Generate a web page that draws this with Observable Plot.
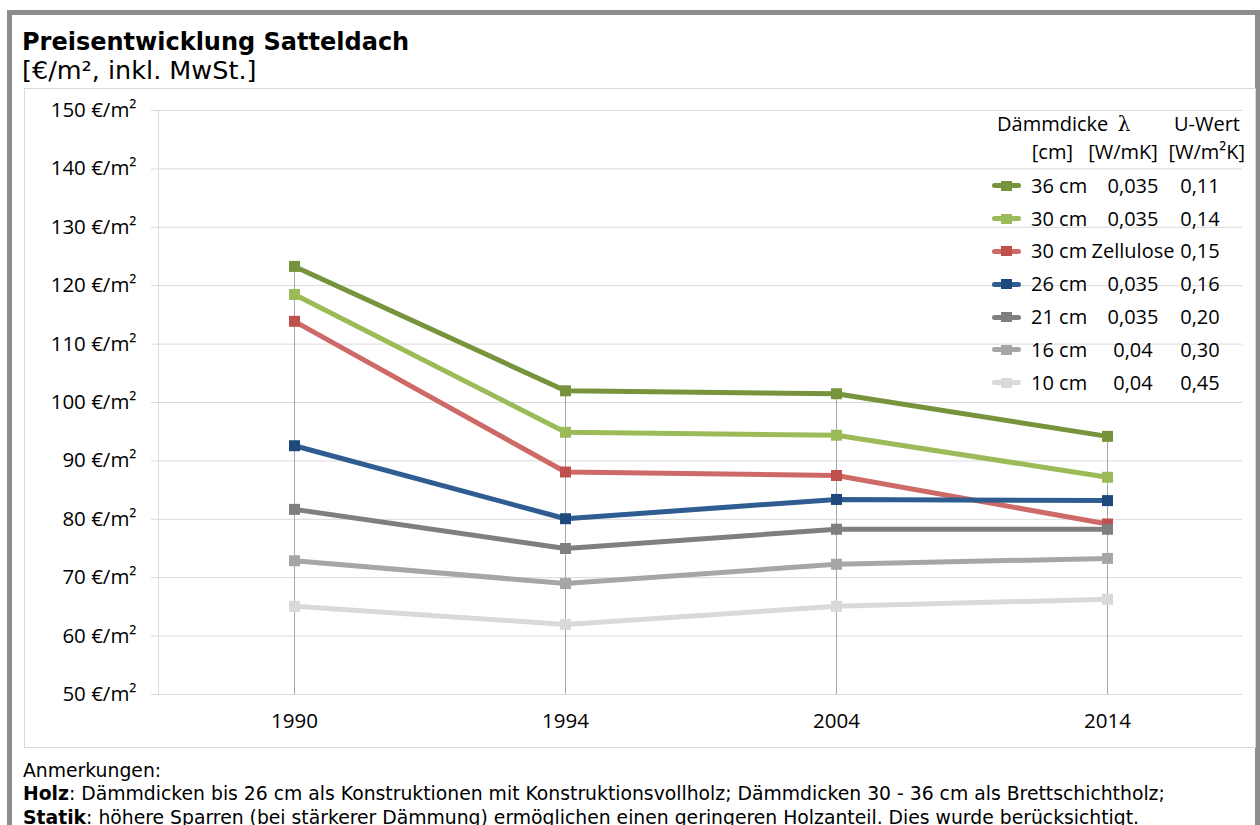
<!DOCTYPE html>
<html>
<head>
<meta charset="utf-8">
<script src="https://cdn.jsdelivr.net/npm/d3@7"></script>
<script src="https://cdn.jsdelivr.net/npm/@observablehq/plot@0.6"></script>
<style>
  html, body { margin: 0; padding: 0; background: #fff; width: 1260px; height: 825px; overflow: hidden; }
  #frame { position: absolute; left: 7px; top: 10px; width: 1243px; height: 900px; border: 5px solid #8c8c8c; box-sizing: content-box; }
  .t { position: absolute; white-space: nowrap; color: #000; }
  #title { left: 22px; top: 29.7px; font: bold 24px/1 "DejaVu Sans"; }
  #subtitle { left: 22px; top: 58.4px; font: 25.5px/1 "DejaVu Sans"; }
  #box { position: absolute; left: 24px; top: 88px; width: 1232px; height: 660px; border: 1px solid #d9d9d9; box-sizing: border-box; }
  #chart { position: absolute; left: 24px; top: 88px; }
  #legend { position: absolute; left: 0; top: 0; font-family: "Open Sans"; font-size: 20px; }
  #legend .t { line-height: 24px; height: 24px; }
  #footer { position: absolute; left: 23px; top: 758.5px; font: 18.8px/23.5px "DejaVu Sans"; white-space: nowrap; }
</style>
</head>
<body>
<div id="frame"></div>
<div id="title" class="t">Preisentwicklung Satteldach</div>
<div id="subtitle" class="t">[€/m², inkl. MwSt.]</div>
<div id="box"></div>
<div id="chart"></div>
<div id="legend"></div>
<div id="footer">
  <div>Anmerkungen:</div>
  <div><b>Holz</b>: Dämmdicken bis 26 cm als Konstruktionen mit Konstruktionsvollholz; Dämmdicken 30 - 36 cm als Brettschichtholz;</div>
  <div><b>Statik</b>: höhere Sparren (bei stärkerer Dämmung) ermöglichen einen geringeren Holzanteil. Dies wurde berücksichtigt.</div>
</div>
<script>
// ---- data ----
const years = ["1990", "1994", "2004", "2014"];
const seriesNames = ["36 cm", "30 cm", "30 cm Zellulose", "26 cm", "21 cm", "16 cm", "10 cm"];
const v36   = [123.3, 102.0, 101.5, 94.2];
const v30   = [118.5, 94.9, 94.4, 87.2];
const vZell = [113.9, 88.1, 87.5, 79.2];
const v26   = [92.6, 80.1, 83.4, 83.2];
const v21   = [81.7, 75.0, 78.3, 78.3];
const v16   = [72.9, 69.0, 72.3, 73.3];
const v10   = [65.1, 62.0, 65.1, 66.3];
const seriesValues = [v36, v30, vZell, v26, v21, v16, v10];
const lineColors   = ["#77933c", "#9bbb59", "#cd6a67", "#2f5d92", "#7f7f7f", "#a6a6a6", "#d9d9d9"];
const markerColors = ["#77933c", "#9bbb59", "#c0504d", "#1f497d", "#7f7f7f", "#a6a6a6", "#d9d9d9"];
const legendDicke  = ["36 cm", "30 cm", "30 cm", "26 cm", "21 cm", "16 cm", "10 cm"];
const legendLambda = ["0,035", "0,035", "Zellulose", "0,035", "0,035", "0,04", "0,04"];
const legendU      = ["0,11", "0,14", "0,15", "0,16", "0,20", "0,30", "0,45"];
const yTicks = [50, 60, 70, 80, 90, 100, 110, 120, 130, 140, 150];

// ---- table for Plot ----
const data = [];
seriesNames.forEach((s, i) => {
  years.forEach((yr, j) => {
    data.push({series: s, year: yr, value: seriesValues[i][j], line: lineColors[i], marker: markerColors[i]});
  });
});
const maxByYear = years.map((yr, j) => ({year: yr, max: d3.max(seriesValues, v => v[j])}));

const chart = Plot.plot({
  width: 1232,
  height: 660,
  marginLeft: 134,
  marginRight: 14,
  marginTop: 22,
  marginBottom: 54,
  style: {fontFamily: "Open Sans", fontSize: "20.5px", color: "#000", background: "transparent", overflow: "visible"},
  x: {type: "point", domain: years, padding: 0.5, label: null},
  y: {domain: [50, 150], label: null},
  color: {type: "identity"},
  marks: [
    Plot.gridY(yTicks, {stroke: "#d9d9d9", strokeOpacity: 1}),
    Plot.frame({anchor: "left", stroke: "#d9d9d9"}),
    Plot.axisY(yTicks, {tickSize: 7, tickPadding: 15, stroke: "#d9d9d9", fill: "#000", tickFormat: d => `${d} €/m²`, label: null}),
    Plot.axisX({tickSize: 0, tickPadding: 19, fill: "#000", label: null}),
    Plot.ruleX(maxByYear, {x: "year", y1: 50, y2: "max", stroke: "#a6a6a6"}),
    Plot.line(data, {x: "year", y: "value", z: "series", stroke: "line", strokeWidth: 5, strokeLinejoin: "round", strokeLinecap: "butt"}),
    Plot.dot(data, {x: "year", y: "value", symbol: "square", r: 6.2, fill: "marker", stroke: null})
  ]
});
document.getElementById("chart").appendChild(chart);

// ---- legend ----
const legend = document.getElementById("legend");
function addText(txt, x, cy, align) {
  const el = document.createElement("div");
  el.className = "t";
  el.textContent = txt;
  el.style.top = (cy - 12) + "px";
  legend.appendChild(el);
  const w = el.getBoundingClientRect().width;
  let left = x;
  if (align === "center") left = x - w / 2;
  if (align === "right") left = x - w;
  el.style.left = left + "px";
  return el;
}
addText("Dämmdicke", 997, 124, "left");
const lam = addText("λ", 1123, 124, "center");
lam.style.fontFamily = "DejaVu Serif";
addText("U-Wert", 1240, 124, "right");
addText("[cm]", 1073, 152, "right");
addText("[W/mK]", 1123, 152, "center");
addText("[W/m²K]", 1245, 152, "right");
const rowY0 = 185.7, rowStep = 32.83;
seriesNames.forEach((s, i) => {
  const cy = rowY0 + i * rowStep;
  const ln = document.createElement("div");
  Object.assign(ln.style, {position: "absolute", left: "992px", top: (cy - 2.5) + "px", width: "29px", height: "5px", borderRadius: "2.5px", background: lineColors[i]});
  legend.appendChild(ln);
  const sq = document.createElement("div");
  Object.assign(sq.style, {position: "absolute", left: "1001px", top: (cy - 5) + "px", width: "11px", height: "10px", background: markerColors[i]});
  legend.appendChild(sq);
  addText(legendDicke[i], 1031, cy, "left");
  addText(legendLambda[i], 1133, cy, "center");
  addText(legendU[i], 1200, cy, "center");
});
</script>
</body>
</html>
